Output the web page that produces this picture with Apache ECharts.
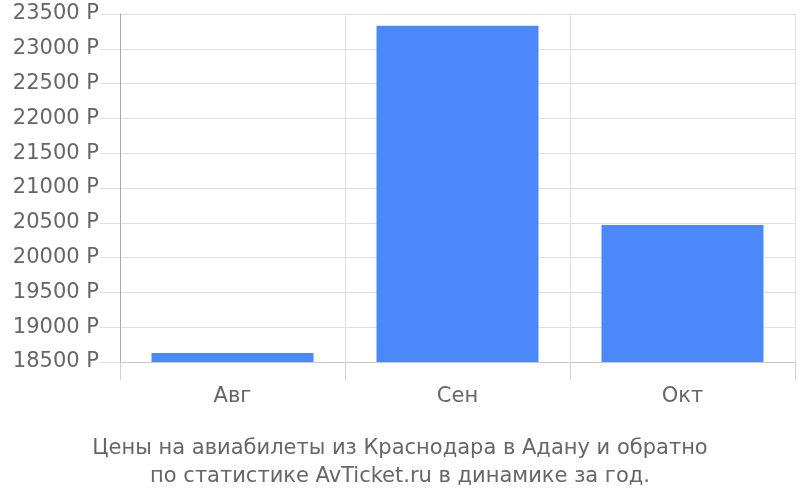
<!DOCTYPE html>
<html><head><meta charset="utf-8">
<script src="https://cdn.jsdelivr.net/npm/echarts@6/dist/echarts.min.js"></script>
<style>html,body{margin:0;padding:0;background:#fff}#c{width:800px;height:500px}</style>
</head><body><div id="c"></div>
<script>
const categories = ['Авг', 'Сен', 'Окт'];
const prices = [18630, 23330, 20470];
const titleLines = ['Цены на авиабилеты из Краснодара в Адану и обратно', 'по статистике AvTicket.ru в динамике за год.'];

const FONT = 'DejaVu Sans, Liberation Sans, sans-serif';
const chart = echarts.init(document.getElementById('c'));
chart.setOption({
  animation: false,
  backgroundColor: '#fff',
  textStyle: { fontFamily: FONT },
  title: {
    text: titleLines.join('\n'),
    left: 'center',
    top: 430,
    textStyle: { fontSize: 21, fontWeight: 'normal', color: '#666', lineHeight: 28, fontFamily: FONT }
  },
  grid: { left: 120, right: 5, top: 14, bottom: 138, containLabel: false },
  xAxis: {
    type: 'category',
    data: categories,
    boundaryGap: true,
    axisLine: { show: true, lineStyle: { color: '#c8c8c8', width: 1 } },
    axisTick: { show: true, length: 18, alignWithLabel: false, lineStyle: { color: '#d0d0d0' } },
    splitLine: { show: true, lineStyle: { color: '#e0e0e0', width: 1 } },
    axisLabel: { fontSize: 21, color: '#666', margin: 24, fontFamily: FONT }
  },
  yAxis: {
    type: 'value',
    min: 18500,
    max: 23500,
    interval: 500,
    axisLine: { show: true, lineStyle: { color: '#aaa', width: 1 } },
    axisTick: { show: true, length: 20, lineStyle: { color: '#e0e0e0' } },
    splitLine: { show: true, lineStyle: { color: '#e0e0e0', width: 1 } },
    axisLabel: { fontSize: 21, color: '#666', margin: 21, fontFamily: FONT, formatter: v => v + ' Р' }
  },
  series: [{
    type: 'bar',
    data: prices,
    barCategoryGap: '28%',
    itemStyle: { color: '#4b89fb' }
  }]
});
</script></body></html>
